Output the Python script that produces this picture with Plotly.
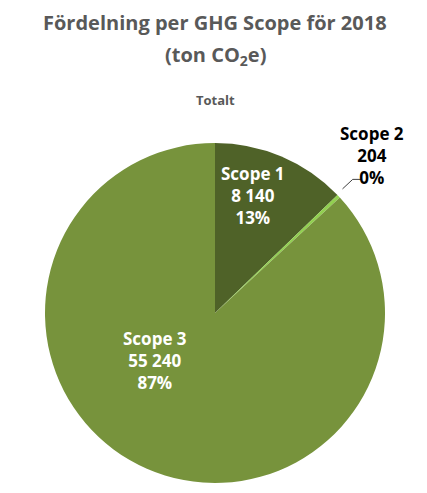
import plotly.graph_objects as go

labels = ["Scope 1", "Scope 2", "Scope 3"]
values = [8140, 204, 55240]
value_text = ["8 140", "204", "55 240"]
pct_text = ["13%", "0%", "87%"]
colors = ["#4F6228", "#92D050", "#77933C"]

fig = go.Figure(go.Pie(
    labels=labels,
    values=values,
    textinfo="none",
    sort=False,
    direction="clockwise",
    rotation=0,
    marker=dict(colors=colors, line=dict(color="#FFFFFF", width=0)),
    showlegend=False,
    hoverinfo="label+value+percent",
))

def lab(i):
    return f"<b>{labels[i]}<br>{value_text[i]}<br>{pct_text[i]}</b>"

annots = []
# Scope 1 label (inside)
annots.append(dict(text=lab(0), x=0.612, y=0.845, xref="paper", yref="paper",
                   xanchor="center", yanchor="middle", showarrow=False,
                   font=dict(family="Open Sans", size=17, color="#FFFFFF")))
# Scope 3 label (inside)
annots.append(dict(text=lab(2), x=0.324, y=0.36, xref="paper", yref="paper",
                   xanchor="center", yanchor="middle", showarrow=False,
                   font=dict(family="Open Sans", size=17, color="#FFFFFF")))
# Scope 2 label (outside with leader line)
annots.append(dict(text=lab(1), x=0.963, y=0.963, xref="paper", yref="paper",
                   xanchor="center", yanchor="middle", showarrow=False,
                   font=dict(family="Open Sans", size=17, color="#000000")))
# Title lines
annots.append(dict(text="<b>Fördelning per GHG Scope för 2018</b>", x=0.5, y=1.0,
                   xref="paper", yref="paper", xanchor="center", yanchor="middle",
                   yshift=121, showarrow=False,
                   font=dict(family="Open Sans", size=20, color="#595959")))
annots.append(dict(text="<b>(ton CO<sub>2</sub>e)</b>", x=0.5, y=1.0,
                   xref="paper", yref="paper", xanchor="center", yanchor="middle",
                   yshift=88, showarrow=False,
                   font=dict(family="Open Sans", size=20, color="#595959")))
annots.append(dict(text="<b>Totalt</b>", x=0.5, y=1.0, xref="paper", yref="paper",
                   xanchor="center", yanchor="middle", yshift=43, showarrow=False,
                   font=dict(family="Open Sans", size=13, color="#595959")))

fig.update_layout(
    width=427, height=493,
    margin=dict(l=45, r=42, t=143, b=10),
    paper_bgcolor="#FFFFFF",
    annotations=annots,
    shapes=[dict(type="path", xref="paper", yref="paper",
                 path="M 0.875,0.865 L 0.905,0.893 L 0.93,0.893",
                 line=dict(color="#404040", width=1))],
)

fig.write_html("out.html")
